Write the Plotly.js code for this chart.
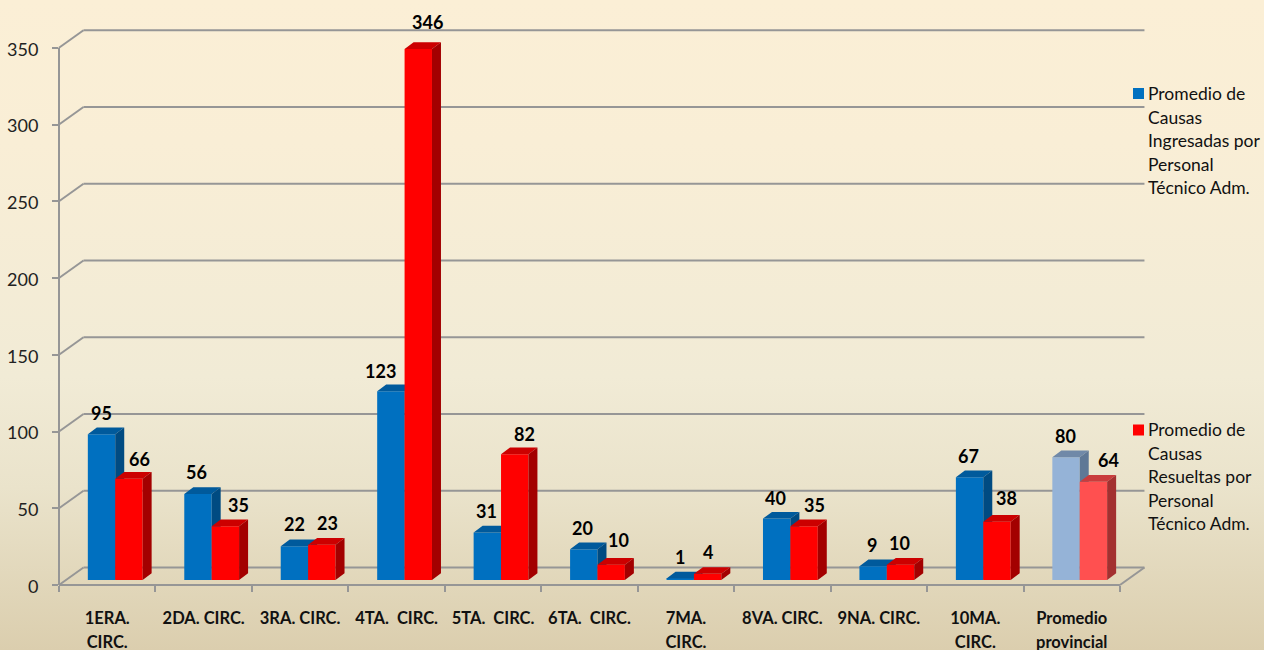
<!DOCTYPE html>
<html>
<head>
<meta charset="utf-8">
<script src="https://cdn.plot.ly/plotly-3.0.1.min.js"></script>
<style>
html,body{margin:0;padding:0;width:1264px;height:650px;overflow:hidden;
background:linear-gradient(to bottom,#FBEFD6 0%,#F9EED6 22%,#F1EBD6 58%,#EAE3CB 75%,#DBCEAE 100%);}
#chart{width:1264px;height:650px;}
</style>
</head>
<body>
<div id="chart"></div>
<script>
// Data
const categories = ["1ERA.<br>CIRC.","2DA. CIRC.","3RA. CIRC.","4TA.  CIRC.","5TA.  CIRC.","6TA.  CIRC.","7MA.<br>CIRC.","8VA. CIRC.","9NA. CIRC.","10MA.<br>CIRC.","Promedio<br>provincial"];
const ingresadas = [95,56,22,123,31,20,1,40,9,67,80];
const resueltas  = [66,35,23,346,82,10,4,35,10,38,64];
const seriesNames = ["Promedio de<br>Causas<br>Ingresadas por<br>Personal<br>Técnico Adm.","Promedio de<br>Causas<br>Resueltas por<br>Personal<br>Técnico Adm."];
const yTicks = [0,50,100,150,200,250,300,350];

// Manual data label nudges in the original (px)
const blueLabelDx = [0,-1,0,-10,-1,-1,0,-1,-1,-1,-1];
const redLabelDx  = [11,13,6,9,10,7,0,10,-1,10,15];
const redLabelDy  = [20,21,22,27,20,25,22,21,22,24,22];
const blueLabelDy = [21,22,22,20,21,21,21,21,21,21,21];

// Styles
const blue = {front:"#0070C0", top:"#005A9C", side:"#004B82"};
const red  = {front:"#FF0000", top:"#CC0000", side:"#A30000"};
const paleBlue = {front:"#95B3D7", top:"#7089A8", side:"#5F7896"};
const paleRed  = {front:"#FF5050", top:"#C93C3C", side:"#A33030"};
const gridColor = "#969696", txt = "#111111", fontFam = "Lato, 'Open Sans', sans-serif";

// Scale constants
const W=1264,H=650,L=59,B=65,T=10,catPx=96.45,unitPx=1.535;
const xMax=(W-L)/catPx, yMax=(H-B-T)/unitPx;
const wallDx=24.5/catPx, wallDy=17.5/unitPx;
const depthDx=9/catPx, depthDy=6.7/unitPx;
const barBase=5/unitPx, barW=27.4/catPx, blueOff=.441, redOff=.725;
const n=categories.length, last=n-1;

function faces(off, values, idx, kind){
  const xs=[],ys=[];
  idx.forEach(i=>{
    const x0=i+off-barW/2, x1=i+off+barW/2, t=barBase+values[i];
    if(kind==="top"){
      xs.push(x0,x0+depthDx,x1+depthDx,x1,x0,null);
      ys.push(t,t+depthDy,t+depthDy,t,t,null);
    }else{
      xs.push(x1,x1+depthDx,x1+depthDx,x1,x1,null);
      ys.push(t,t+depthDy,barBase+depthDy,barBase,t,null);
    }
  });
  return {xs,ys};
}
function faceTrace(off,values,idx,kind,color,xa,ya){
  const f=faces(off,values,idx,kind);
  return {type:"scatter",mode:"lines",x:f.xs,y:f.ys,xaxis:xa,yaxis:ya,fill:"toself",fillcolor:color,
    line:{width:0,color:color},hoverinfo:"skip",showlegend:false};
}
const regular=[...Array(last).keys()];
const centers=o=>categories.map((c,i)=>i+o);
const barTrace=(o,vals,name,fronts,xa,ya)=>({type:"bar",x:centers(o),y:vals,base:barBase,width:barW,name:name.replace(/<br>/g," "),
  xaxis:xa,yaxis:ya,showlegend:false,hoverinfo:"y",
  marker:{color:categories.map((c,i)=>i===last?fronts[1]:fronts[0]),line:{width:0}}});

const data=[
  barTrace(blueOff,ingresadas,seriesNames[0],[blue.front,paleBlue.front],"x","y"),
  faceTrace(blueOff,ingresadas,regular,"top",blue.top,"x","y"),
  faceTrace(blueOff,ingresadas,regular,"side",blue.side,"x","y"),
  faceTrace(blueOff,ingresadas,[last],"top",paleBlue.top,"x","y"),
  faceTrace(blueOff,ingresadas,[last],"side",paleBlue.side,"x","y"),
  barTrace(redOff,resueltas,seriesNames[1],[red.front,paleRed.front],"x2","y2"),
  faceTrace(redOff,resueltas,regular,"top",red.top,"x2","y2"),
  faceTrace(redOff,resueltas,regular,"side",red.side,"x2","y2"),
  faceTrace(redOff,resueltas,[last],"top",paleRed.top,"x2","y2"),
  faceTrace(redOff,resueltas,[last],"side",paleRed.side,"x2","y2")
];

// Chart frame: front axes, floor, back wall
const lineStyle={color:gridColor,width:2};
const px=x=>(x-L)/(W-L), py=y=>1-(y-T)/(H-B-T);
const fx=c=>px(L+c*catPx), fy=v=>py(H-B-v*unitPx);
// paper references so the front axis lines are not cut by the plot's clip
const seg=(x0,y0,x1,y1)=>({type:"line",xref:"paper",yref:"paper",layer:"below",x0:fx(x0),y0:fy(y0),x1:fx(x1),y1:fy(y1),line:lineStyle});
const shapes=[seg(0,0,0,350),seg(0,0,n,0),seg(n,0,n+wallDx,wallDy)];
yTicks.forEach(v=>{
  shapes.push(seg(0,v,wallDx,v+wallDy));
  shapes.push(seg(wallDx,v+wallDy,n+wallDx,v+wallDy));
});

// Legend swatches + text
const legendTop=[{sw:88,tx:82,c:blue.front},{sw:424.5,tx:418,c:red.front}];
const annotations=[];
legendTop.forEach((g,k)=>{
  shapes.push({type:"rect",xref:"paper",yref:"paper",x0:px(1133),x1:px(1144),y0:py(g.sw+11),y1:py(g.sw),fillcolor:g.c,line:{width:0}});
  annotations.push({xref:"paper",yref:"paper",x:px(1147),y:py(g.tx),xanchor:"left",yanchor:"top",align:"left",showarrow:false,
    text:seriesNames[k],borderpad:0,font:{family:fontFam,size:17.5,color:txt}});
});
// Data labels
function addLabels(vals,off,dx,dy){
  vals.forEach((v,i)=>annotations.push({x:i+off,y:barBase+v,xref:"x",yref:"y",text:String(v),showarrow:false,
    xanchor:"center",yanchor:"middle",xshift:dx[i],yshift:dy[i],font:{family:fontFam,size:18,color:"#000",weight:700}}));
}
addLabels(ingresadas,blueOff,blueLabelDx,blueLabelDy);
addLabels(resueltas,redOff,redLabelDx,redLabelDy);

const layout={
  width:W,height:H,margin:{l:L,r:0,t:T,b:B,pad:0},
  paper_bgcolor:"rgba(0,0,0,0)",plot_bgcolor:"rgba(0,0,0,0)",showlegend:false,barmode:"overlay",
  xaxis:{range:[0,xMax],tickmode:"array",tickvals:categories.map((c,i)=>i+.5),ticktext:categories,ticks:"",
    showgrid:false,zeroline:false,showline:false,tickangle:0,ticklabelstandoff:21,
    tickfont:{family:fontFam,size:16.5,color:txt,weight:700},
    minor:{tickmode:"array",tickvals:[...Array(n+1).keys()],ticks:"outside",ticklen:6,tickwidth:2,tickcolor:gridColor,showgrid:false}},
  yaxis:{range:[0,yMax],tickmode:"array",tickvals:yTicks,ticks:"outside",ticklen:6,tickwidth:2,tickcolor:gridColor,
    showgrid:false,zeroline:false,showline:false,ticklabelstandoff:10,tickfont:{family:fontFam,size:18,color:"#222"}},
  xaxis2:{range:[0,xMax],overlaying:"x",visible:false,anchor:"y2"},
  yaxis2:{range:[0,yMax],overlaying:"y",visible:false,anchor:"x2"},
  shapes,annotations
};

Plotly.newPlot("chart",data,layout,{displayModeBar:false,responsive:false}).then(gd=>{
  // line spacing of multi-line labels as in the original
  const setSpacing=(sel,px)=>gd.querySelectorAll(sel).forEach(t=>{
    t.querySelectorAll("tspan.line").forEach((s,i)=>s.setAttribute("dy",(i*px)+"px"));
  });
  setSpacing(".xtick text,.xtick2 text",24);
  setSpacing(".annotation-text",23.5);
  gd.querySelectorAll(".ytick text").forEach(t=>t.setAttribute("dy","1.5"));
});
</script>
</body>
</html>
